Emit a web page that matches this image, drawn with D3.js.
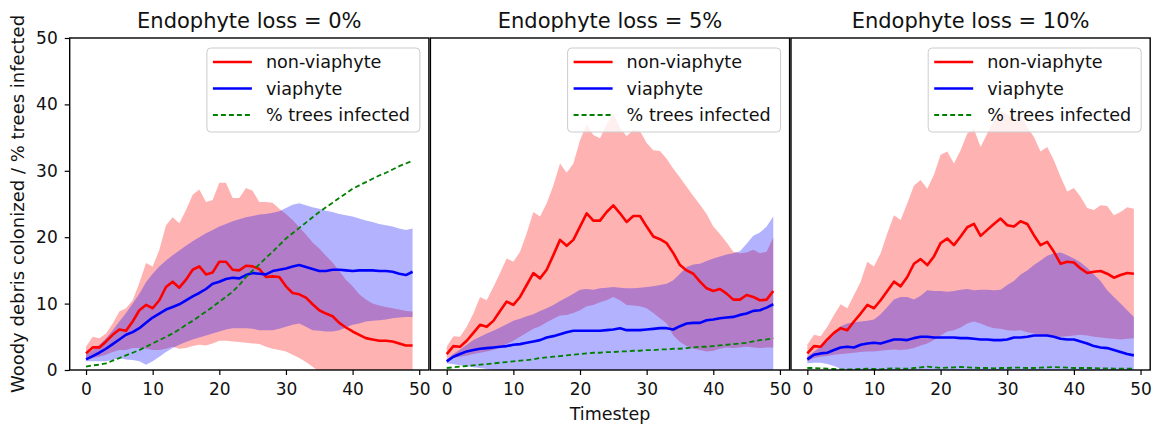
<!DOCTYPE html>
<html><head><meta charset="utf-8">
<script src="https://cdn.jsdelivr.net/npm/d3@7"></script>
<style>
body{margin:0;background:#fff}
svg{display:block}
text{font-family:"DejaVu Sans",sans-serif;fill:#111}
</style>
</head><body>
<svg id="chart" width="1156" height="425"></svg>
<script>
// ---------- data ----------
const timesteps = d3.range(50);
const titles = ["Endophyte loss = 0%", "Endophyte loss = 5%", "Endophyte loss = 10%"];
const seriesNames = ["non-viaphyte", "viaphyte", "% trees infected"];
const xTicks = [0, 10, 20, 30, 40, 50];
const yTicks = [0, 10, 20, 30, 40, 50];
const xLabel = "Timestep";
const yLabel = "Woody debris colonized / % trees infected";

// Endophyte loss = 0%
const redMean0 = [2.5,3.4,3.4,4.3,5.3,6.1,5.9,7.3,9.0,9.8,9.3,10.5,12.5,13.3,12.4,13.6,15.1,15.6,14.4,14.7,16.3,16.3,15.1,15.0,15.7,15.6,15.2,14.0,14.1,14.0,12.6,11.6,11.4,10.9,9.9,9.0,8.5,8.1,7.1,6.4,5.8,5.3,4.8,4.6,4.4,4.4,4.3,4.0,3.7,3.7];
const redHi0 = [3.5,5.0,4.8,5.5,7.0,8.8,9.3,10.5,13.1,16.1,15.6,18.1,21.8,23.0,22.1,24.1,26.4,27.2,25.3,25.6,28.2,28.2,25.9,25.9,27.4,27.0,25.3,25.3,25.2,24.3,23.5,22.6,21.5,20.4,19.2,18.3,17.2,16.2,14.9,13.6,12.6,11.4,10.6,10.0,9.7,9.5,9.3,9.1,8.9,8.8];
const redLo0 = [1.5,1.8,2.0,2.3,2.7,3.0,3.0,3.3,3.3,3.2,3.0,3.0,3.2,3.5,3.2,3.3,3.6,3.8,3.7,4.0,4.4,4.4,4.3,4.2,4.1,4.0,3.9,3.5,3.2,3.0,2.8,2.3,1.8,1.2,0.5,-0.3,-0.6,-0.8,-1.0,-1.0,-1.0,-1.1,-1.2,-1.2,-1.3,-1.3,-1.3,-1.4,-1.4,-1.4];
const blueMean0 = [1.6,2.1,2.6,3.2,3.9,4.6,5.3,5.7,6.3,7.1,7.9,8.5,9.1,9.5,9.9,10.5,11.1,11.6,12.2,13.0,13.3,13.7,13.9,13.8,14.3,14.6,14.5,14.4,14.9,15.1,15.3,15.6,15.8,15.5,15.2,14.9,14.9,15.1,15.1,15.0,14.9,15.0,15.0,15.0,14.9,14.9,14.8,14.5,14.3,14.8];
const blueHi0 = [2.3,3.0,3.8,4.8,6.0,7.3,8.6,10.0,11.5,13.2,14.5,15.6,16.5,17.3,18.0,18.7,19.4,20.0,20.6,21.1,21.6,22.0,22.4,22.7,23.0,23.2,23.4,23.5,23.7,23.9,24.4,24.9,25.1,24.8,24.5,24.3,24.0,23.8,23.5,23.3,23.1,22.8,22.5,22.3,22.0,21.8,21.6,21.3,21.1,21.3];
const blueLo0 = [1.3,1.3,1.3,1.3,1.5,1.8,1.6,1.5,1.3,0.8,1.3,2.0,2.7,3.3,3.8,4.2,4.6,4.9,5.2,5.5,5.8,6.1,6.3,6.3,6.3,6.2,6.0,6.0,6.0,6.2,6.5,6.8,7.0,6.5,6.0,5.9,5.8,5.8,6.0,6.4,6.8,7.0,7.3,7.4,7.5,7.6,7.8,7.9,8.0,8.0];
const green0 = [0.5,0.7,0.8,1.0,1.4,1.8,2.2,2.6,3.0,3.5,4.0,4.5,5.0,5.5,6.1,6.8,7.4,8.1,8.8,9.5,10.3,11.0,11.8,12.8,14.0,15.0,15.9,16.9,17.8,18.8,19.8,20.6,21.4,22.2,23.0,23.8,24.5,25.2,25.9,26.6,27.3,27.8,28.3,28.8,29.3,29.7,30.2,30.7,31.1,31.5];

// Endophyte loss = 5%
const redMean1 = [2.4,3.6,3.5,4.4,5.6,6.8,6.5,7.4,8.9,10.3,9.8,11.0,12.8,14.6,13.8,15.1,17.3,19.6,18.7,19.6,21.6,23.6,22.5,22.5,23.8,24.8,23.6,22.3,23.2,23.2,21.6,20.1,19.7,19.1,17.6,15.8,15.0,14.5,13.3,12.3,11.9,12.2,11.5,10.6,10.6,11.3,11.0,10.5,10.6,11.9];
const redHi1 = [3.5,5.1,5.0,6.5,8.5,11.0,10.5,12.5,14.6,16.8,16.3,17.8,20.6,23.8,23.1,25.1,27.8,31.1,29.7,31.1,34.6,37.0,35.4,34.9,37.0,38.6,36.5,35.2,36.2,36.0,34.2,33.1,33.0,31.8,30.3,29.0,27.6,26.2,24.9,23.5,21.6,20.5,19.2,17.8,17.6,17.7,18.1,17.6,17.8,20.0];
const redLo1 = [1.3,1.8,2.0,2.2,2.4,2.6,2.8,3.0,3.4,3.9,4.4,5.0,5.6,6.2,6.6,7.2,7.7,8.2,8.3,8.6,9.0,9.6,9.8,10.2,10.5,11.0,10.5,9.8,9.7,9.6,9.3,8.6,7.8,7.0,5.2,4.2,3.6,3.2,3.0,2.8,2.9,3.2,3.4,3.3,3.4,3.5,3.4,3.3,3.4,3.4];
const blueMean1 = [1.3,2.0,2.4,2.8,3.0,3.2,3.3,3.4,3.5,3.6,3.8,3.9,4.1,4.3,4.5,4.9,5.1,5.4,5.7,5.9,5.9,5.9,5.9,5.9,6.0,6.1,6.3,6.0,6.0,6.0,6.1,6.2,6.3,6.3,6.1,6.6,7.0,7.1,7.1,7.5,7.6,7.8,7.9,8.0,8.3,8.5,8.9,9.0,9.4,9.9];
const blueHi1 = [1.6,2.4,3.1,3.8,4.5,5.0,5.5,5.9,6.4,6.9,7.4,7.7,8.1,8.4,8.9,9.3,9.8,10.4,10.9,11.5,12.1,12.2,12.1,12.3,12.4,12.5,12.4,12.3,12.3,12.4,12.5,12.6,12.8,13.0,13.5,14.5,15.5,15.9,16.0,16.4,16.8,17.1,17.4,17.6,17.9,19.0,20.2,20.7,21.6,23.1];
const blueLo1 = [1.0,0.85,0.7,0.55,0.4,0.3,0.15,0.05,0,0,0,0,0,0,0,0,0,0,0,0,0,0,0,0,0,0,0,0,0,0,0,0,0,0,0,0,0,0,0,0,0,0,0,0,0,0,0,0,0,0];
const green1 = [0.3,0.4,0.5,0.6,0.7,0.8,0.9,1.0,1.1,1.2,1.3,1.4,1.5,1.6,1.8,1.9,2.0,2.1,2.2,2.3,2.4,2.5,2.6,2.6,2.7,2.7,2.8,2.8,2.9,2.9,3.0,3.0,3.1,3.1,3.2,3.2,3.3,3.4,3.5,3.5,3.6,3.7,3.8,3.9,4.0,4.1,4.3,4.5,4.6,4.8];

// Endophyte loss = 10%
const redMean2 = [2.5,3.6,3.5,4.6,5.6,6.3,6.0,7.3,8.5,9.8,9.3,10.5,11.9,13.3,12.6,14.0,16.0,16.7,15.8,17.1,19.1,19.8,18.8,20.1,21.5,22.0,20.2,21.1,22.0,22.8,21.8,21.6,22.4,22.0,20.3,18.8,19.3,17.8,16.0,16.3,16.2,15.3,14.6,14.8,14.9,14.5,13.9,14.3,14.6,14.5];
const redHi2 = [3.8,5.3,5.1,6.5,8.3,9.9,9.3,11.3,13.3,16.3,15.6,17.6,20.6,23.3,22.6,25.1,27.8,28.6,27.3,29.4,32.4,32.9,31.1,33.1,35.6,36.3,33.6,35.6,37.6,39.0,38.5,38.0,38.5,36.6,35.1,32.9,33.6,31.6,29.1,26.9,27.4,26.1,24.4,24.1,24.8,24.7,23.3,23.8,24.5,24.3];
const redLo2 = [1.3,1.8,2.0,2.1,2.3,2.4,2.5,2.6,2.7,2.8,2.8,2.9,3.0,3.1,3.0,3.1,3.3,3.7,4.0,4.5,5.2,5.8,6.0,6.4,7.0,7.3,7.0,6.6,6.3,6.2,6.0,5.9,6.0,5.7,5.5,5.3,5.2,5.0,5.0,5.1,5.2,5.3,5.2,5.0,4.9,4.8,4.7,4.6,4.7,4.8];
const blueMean2 = [1.6,2.3,2.5,2.6,3.0,3.4,3.5,3.4,3.8,4.0,4.1,4.0,4.3,4.6,4.6,4.5,4.8,5.0,5.0,4.9,4.9,4.9,4.9,4.8,4.8,4.7,4.6,4.6,4.5,4.5,4.6,4.9,4.9,5.0,5.2,5.2,5.2,5.0,4.7,4.6,4.6,4.3,4.0,3.6,3.4,3.3,3.0,2.7,2.4,2.2];
const blueHi2 = [2.0,2.8,3.5,4.3,5.3,6.6,7.0,7.2,7.3,7.4,7.6,8.4,9.5,10.6,11.0,11.0,10.6,11.2,12.0,11.9,11.9,11.8,11.9,12.1,12.2,12.0,12.1,12.1,12.0,12.1,12.8,13.4,14.4,15.0,15.8,16.5,17.2,17.6,17.7,17.3,16.8,16.2,15.4,14.4,13.4,12.0,11.0,10.0,9.0,8.0];
const blueLo2 = [1.0,1.1,1.1,0.9,0.6,0.2,0,0,0,0,0,0,0,0,0,0,0,0,0,0,0,0,0,0,0,0,0,0,0,0,0,0,0,0,0,0,0,0,0,0,0,0,0,0,0,0,0,0,0,0];
const green2 = [0.3,0.3,0.25,0.2,0.15,0.1,0.1,0.1,0.15,0.2,0.15,0.1,0.2,0.25,0.2,0.2,0.3,0.4,0.5,0.4,0.3,0.35,0.4,0.45,0.4,0.35,0.3,0.3,0.25,0.3,0.3,0.35,0.35,0.3,0.3,0.35,0.4,0.45,0.4,0.35,0.3,0.3,0.3,0.3,0.25,0.25,0.2,0.2,0.2,0.2];

const panels = [
  {title: titles[0], rm: redMean0, rl: redLo0, rh: redHi0, bm: blueMean0, bl: blueLo0, bh: blueHi0, g: green0},
  {title: titles[1], rm: redMean1, rl: redLo1, rh: redHi1, bm: blueMean1, bl: blueLo1, bh: blueHi1, g: green1},
  {title: titles[2], rm: redMean2, rl: redLo2, rh: redHi2, bm: blueMean2, bl: blueLo2, bh: blueHi2, g: green2}
];

// ---------- layout ----------
const svg = d3.select("#chart");
const panelLeft = [69.7, 430.4, 791.0];
const panelW = 359.2;
const plotTop = 38, plotBottom = 370;
const y = d3.scaleLinear().domain([0, 50]).range([plotBottom, plotTop]);

panels.forEach((p, k) => {
  const L = panelLeft[k], R = L + panelW;
  const x = d3.scaleLinear().domain([-2.45, 51.45]).range([L, R]);
  const g = svg.append("g");
  const cid = "clip" + k;
  svg.append("clipPath").attr("id", cid).append("rect")
    .attr("x", L).attr("y", plotTop).attr("width", panelW).attr("height", plotBottom - plotTop);
  const plot = g.append("g").attr("clip-path", `url(#${cid})`);

  const band = (lo, hi) => d3.area()
    .x((d, i) => x(timesteps[i])).y0((d, i) => y(lo[i])).y1((d, i) => y(hi[i]))(timesteps);
  const line = arr => d3.line().x((d, i) => x(timesteps[i])).y((d, i) => y(arr[i]))(timesteps);

  plot.append("path").attr("d", band(p.rl, p.rh)).attr("fill", "#ff0000").attr("fill-opacity", 0.3);
  plot.append("path").attr("d", band(p.bl, p.bh)).attr("fill", "#0000ff").attr("fill-opacity", 0.3);
  plot.append("path").attr("d", line(p.rm)).attr("fill", "none").attr("stroke", "#ff0000").attr("stroke-width", 2.6).attr("stroke-linejoin", "round");
  plot.append("path").attr("d", line(p.bm)).attr("fill", "none").attr("stroke", "#0000ff").attr("stroke-width", 2.6).attr("stroke-linejoin", "round");
  plot.append("path").attr("d", line(p.g)).attr("fill", "none").attr("stroke", "#008000").attr("stroke-width", 1.8).attr("stroke-dasharray", "5,3");

  // x axis
  const xa = g.append("g").attr("transform", `translate(0,${plotBottom})`)
    .call(d3.axisBottom(x).tickValues(xTicks).tickSize(5).tickPadding(8).tickFormat(d3.format("d")));
  xa.select(".domain").remove();
  xa.selectAll("line").attr("stroke", "#000").attr("stroke-width", 1.2);
  xa.selectAll("text").style("font-size", "17px").style("font-family", "DejaVu Sans").attr("fill", "#111");

  if (k === 0) {
    const ya = g.append("g").attr("transform", `translate(${L},0)`)
      .call(d3.axisLeft(y).tickValues(yTicks).tickSize(5).tickPadding(7).tickFormat(d3.format("d")));
    ya.select(".domain").remove();
    ya.selectAll("line").attr("stroke", "#000").attr("stroke-width", 1.2);
    ya.selectAll("text").style("font-size", "17px").style("font-family", "DejaVu Sans").attr("fill", "#111");
  }

  // spines
  g.append("rect").attr("x", L).attr("y", plotTop).attr("width", panelW).attr("height", plotBottom - plotTop)
    .attr("fill", "none").attr("stroke", "#000").attr("stroke-width", 1.4);

  // title
  g.append("text").attr("x", (L + R) / 2).attr("y", 27.5).attr("text-anchor", "middle")
    .style("font-size", "21px").text(p.title);

  // legend
  const lw = 213, lh = 84;
  const lx = R - 9 - lw, ly = 48;
  const lg = g.append("g");
  lg.append("rect").attr("x", lx).attr("y", ly).attr("width", lw).attr("height", lh).attr("rx", 4)
    .attr("fill", "#fff").attr("fill-opacity", 0.8).attr("stroke", "#cccccc").attr("stroke-width", 1);
  const items = [
    {name: seriesNames[0], color: "#ff0000", w: 2.6, dash: null},
    {name: seriesNames[1], color: "#0000ff", w: 2.6, dash: null},
    {name: seriesNames[2], color: "#008000", w: 1.8, dash: "5,3"}
  ];
  items.forEach((it, j) => {
    const yy = ly + 14 + j * 26.5;
    const ln = lg.append("line").attr("x1", lx + 6).attr("x2", lx + 45).attr("y1", yy).attr("y2", yy)
      .attr("stroke", it.color).attr("stroke-width", it.w);
    if (it.dash) ln.attr("stroke-dasharray", it.dash);
    lg.append("text").attr("x", lx + 59).attr("y", yy).attr("dy", "0.35em")
      .style("font-size", "17.6px").text(it.name);
  });
});

// axis labels
svg.append("text").attr("transform", "translate(24,204) rotate(-90)").attr("text-anchor", "middle")
  .style("font-size", "18px").text(yLabel);
svg.append("text").attr("x", (panelLeft[1] + panelLeft[1] + panelW) / 2).attr("y", 419.5)
  .attr("text-anchor", "middle").style("font-size", "17.5px").text(xLabel);
</script>
</body></html>
